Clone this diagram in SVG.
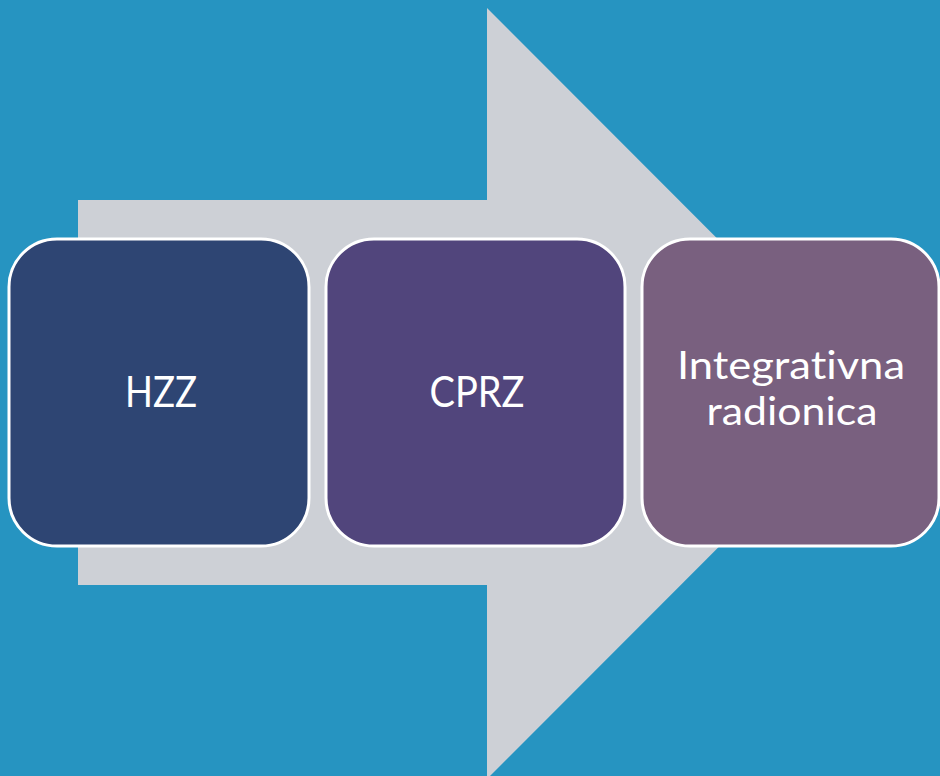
<svg xmlns="http://www.w3.org/2000/svg" width="940" height="776" viewBox="0 0 940 776">
<style>
.box{stroke:#FFFFFF;stroke-width:3}
.lbl{fill:#FFFFFF;font-family:Lato,"Liberation Sans",sans-serif;text-anchor:middle;font-variant-ligatures:none;font-feature-settings:"liga" 0}
</style>
<rect x="0" y="0" width="940" height="776" fill="#2694C1"/>
<g id="arrow">
<polygon points="78,200 487,200 487,8 872,393.5 487,779 487,585 78,585" fill="#CDD0D6"/>
</g>
<g id="connectors"></g>
<g id="node-hzz">
<rect class="box" x="9" y="239" width="300" height="307" rx="48" fill="#2E4573"/>
<text class="lbl" x="161" y="407" font-size="42" textLength="72" lengthAdjust="spacingAndGlyphs">HZZ</text>
</g>
<g id="node-cprz">
<rect class="box" x="326" y="239" width="299" height="307" rx="48" fill="#51457C"/>
<text class="lbl" x="477" y="407" font-size="42" textLength="95" lengthAdjust="spacingAndGlyphs">CPRZ</text>
</g>
<g id="node-integrativna">
<rect class="box" x="642" y="239" width="297" height="307" rx="48" fill="#79607F"/>
<text class="lbl" x="791" y="379" font-size="38" textLength="228" lengthAdjust="spacingAndGlyphs">Integrativna</text>
<text class="lbl" x="792" y="425" font-size="38" textLength="171" lengthAdjust="spacingAndGlyphs">radionica</text>
</g>
</svg>
